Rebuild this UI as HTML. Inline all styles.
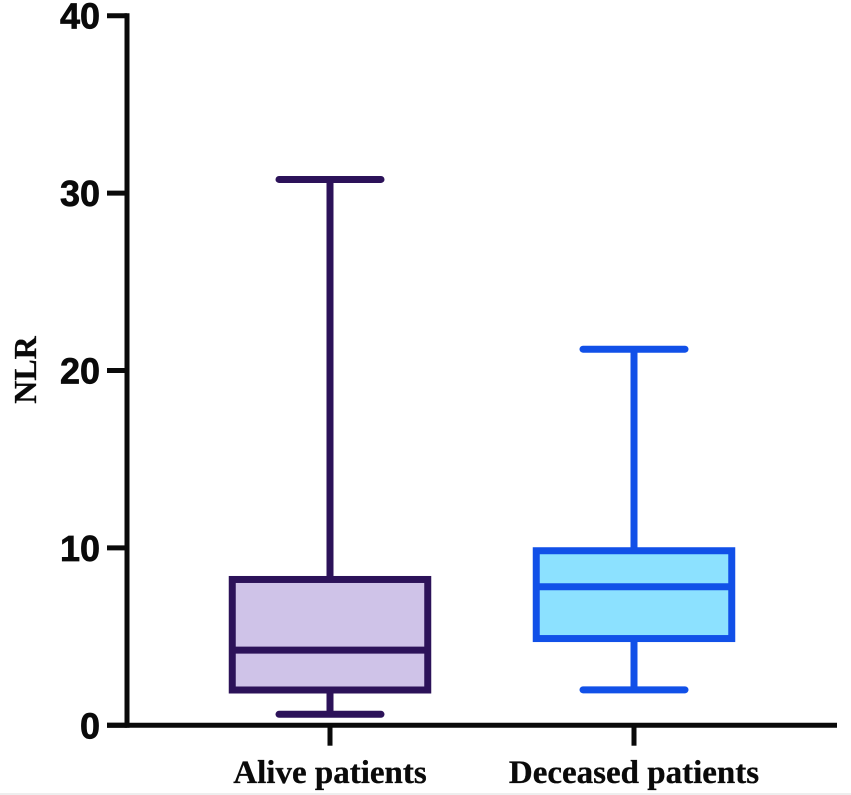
<!DOCTYPE html>
<html lang="en">
<head>
<meta charset="utf-8">
<title>NLR box plot</title>
<style>
html,body{margin:0;padding:0;background:#fff;width:851px;height:795px;overflow:hidden}
svg{display:block}
.num{font-family:"Liberation Sans",sans-serif;font-weight:700;font-size:36px;fill:#0a0a0a;stroke:#0a0a0a;stroke-width:0.7px}
.lab{font-family:"Liberation Serif",serif;font-weight:700;font-size:33px;fill:#0a0a0a;stroke:#0a0a0a;stroke-width:0.3px}
.ytitle{font-size:32px}
</style>
</head>
<body>
<svg id="chart" width="851" height="795" viewBox="0 0 851 795" xmlns="http://www.w3.org/2000/svg">
  <rect x="0" y="793" width="851" height="2" fill="#eeeeee"/>
  <g id="marks"></g>
  <g id="axes"></g>
  <text class="lab ytitle" transform="translate(36,370) rotate(-90)" text-anchor="middle">NLR</text>
</svg>
<script>
const categories = ["Alive patients", "Deceased patients"];
const whiskerLow = [0.62, 2.0];
const q1 = [1.99, 4.89];
const median = [4.24, 7.81];
const q3 = [8.22, 9.84];
const whiskerHigh = [30.77, 21.2];
const yTicks = [0, 10, 20, 30, 40];
const strokeColors = ["#2c1259", "#1150e8"];
const fillColors = ["#cfc3e8", "#8ce1ff"];

const Y0 = 725.3, PX_PER_UNIT = 17.74, X0 = 330, X_STEP = 304;
const BOX_W = 195.5, CAP_W = 102, SW = 7;
const yScale = v => Y0 - v * PX_PER_UNIT;
const xScale = i => X0 + i * X_STEP;
const NS = "http://www.w3.org/2000/svg";
const marks = document.getElementById("marks");
const axes = document.getElementById("axes");

function make(parent, tag, attrs) {
  const el = document.createElementNS(NS, tag);
  for (const k in attrs) el.setAttribute(k, attrs[k]);
  parent.appendChild(el);
  return el;
}

categories.forEach((cat, i) => {
  const x = xScale(i), c = strokeColors[i];
  const g = make(marks, "g", {});
  
  

  const up = make(g, "line", {x1: x, x2: x, y1: yScale(whiskerHigh[i]), y2: yScale(q3[i]), stroke: c, "stroke-width": SW});
  
  

  const low = make(g, "line", {x1: x, x2: x, y1: yScale(q1[i]), y2: yScale(whiskerLow[i]), stroke: c, "stroke-width": SW});
  
  

  const capHi = make(g, "line", {x1: x - CAP_W / 2, x2: x + CAP_W / 2, y1: yScale(whiskerHigh[i]), y2: yScale(whiskerHigh[i]), stroke: c, "stroke-width": SW, "stroke-linecap": "round"});
  
  

  const capLo = make(g, "line", {x1: x - CAP_W / 2, x2: x + CAP_W / 2, y1: yScale(whiskerLow[i]), y2: yScale(whiskerLow[i]), stroke: c, "stroke-width": SW, "stroke-linecap": "round"});
  
  

  const box = make(g, "rect", {x: x - BOX_W / 2, y: yScale(q3[i]), width: BOX_W, height: yScale(q1[i]) - yScale(q3[i]), fill: fillColors[i], stroke: c, "stroke-width": SW});
  
  

  const med = make(g, "line", {x1: x - BOX_W / 2, x2: x + BOX_W / 2, y1: yScale(median[i]), y2: yScale(median[i]), stroke: c, "stroke-width": SW});
  
  

  const tick = make(axes, "line", {x1: x, x2: x, y1: Y0, y2: 745.7, stroke: "#0a0a0a", "stroke-width": 5});
  
  

  const label = make(axes, "text", {x: x, y: 783, "text-anchor": "middle", class: "lab"});
  
  
  label.textContent = cat;
});

const yLine = make(axes, "line", {x1: 127, x2: 127, y1: yScale(yTicks[yTicks.length - 1]) - 2.5, y2: Y0 + 2.5, stroke: "#0a0a0a", "stroke-width": 5});



const xLine = make(axes, "line", {x1: 107, x2: 837, y1: Y0, y2: Y0, stroke: "#0a0a0a", "stroke-width": 5});



yTicks.forEach(v => {
  const t = make(axes, "line", {x1: 107, x2: 127, y1: yScale(v), y2: yScale(v), stroke: "#0a0a0a", "stroke-width": 5});
  
  

  const l = make(axes, "text", {x: 100, y: yScale(v) + 13, "text-anchor": "end", class: "num"});
  
  
  l.textContent = v;
});
</script>
</body>
</html>
